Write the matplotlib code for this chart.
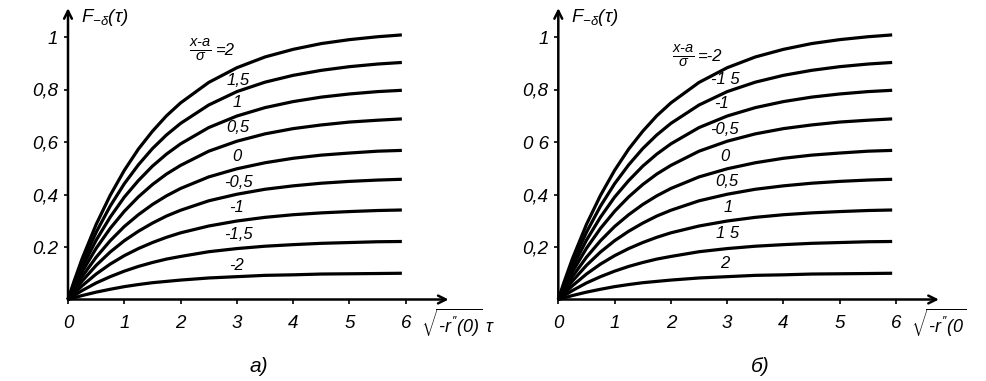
import matplotlib
matplotlib.use("Agg")
import matplotlib.pyplot as plt

plt.rcParams['font.family'] = ['Liberation Sans', 'DejaVu Sans']
plt.rcParams['font.style'] = 'italic'
plt.rcParams['mathtext.fontset'] = 'custom'
plt.rcParams['mathtext.rm'] = 'Liberation Sans:italic'
plt.rcParams['mathtext.it'] = 'Liberation Sans:italic'
plt.rcParams['mathtext.sf'] = 'Liberation Sans:italic'

# ---- data ----
tau = [0, 0.1, 0.25, 0.5, 0.75, 1, 1.25, 1.5, 1.75, 2, 2.5, 3, 3.5, 4, 4.5, 5, 5.5, 5.93]

curve_a = [0, .065, .155, .286, .397, .492, .573, .641, .700, .749, .827, .883, .924, .953, .975, .990, 1.001, 1.008]
curve_b = [0, .058, .138, .256, .356, .441, .513, .575, .627, .671, .741, .792, .828, .854, .873, .887, .897, .903]
curve_c = [0, .051, .122, .226, .314, .390, .453, .508, .554, .593, .655, .699, .731, .754, .771, .783, .792, .797]
curve_d = [0, .044, .105, .195, .271, .336, .391, .438, .478, .511, .565, .603, .631, .651, .665, .676, .683, .688]
curve_e = [0, .037, .087, .161, .224, .278, .323, .362, .395, .423, .467, .498, .521, .538, .550, .558, .565, .568]
curve_f = [0, .029, .070, .130, .181, .224, .260, .291, .318, .340, .376, .401, .420, .433, .443, .450, .455, .458]
curve_g = [0, .022, .052, .097, .135, .167, .194, .217, .237, .254, .280, .299, .313, .323, .330, .335, .339, .341]
curve_h = [0, .014, .034, .063, .087, .108, .126, .141, .154, .164, .182, .194, .203, .209, .214, .217, .220, .221]
curve_i = [0, .006, .015, .028, .039, .049, .057, .064, .069, .074, .082, .087, .092, .094, .097, .098, .099, .100]
curves = [curve_a, curve_b, curve_c, curve_d, curve_e, curve_f, curve_g, curve_h, curve_i]

x_ticks = [0, 1, 2, 3, 4, 5, 6]
x_ticklabels = ["0", "1", "2", "3", "4", "5", "6"]
y_ticks = [0.2, 0.4, 0.6, 0.8, 1.0]
y_ticklabels_left = ["0.2", "0,4", "0,6", "0,8", "1"]
y_ticklabels_right = ["0,2", "0,4", "0 6", "0,8", "1"]

frac_label = r"$\frac{x\text{-}a}{\sigma}$"
top_value_left = "=2"
top_value_right = "=-2"
labels_left = ["1,5", "1", "0,5", "0", "-0,5", "-1", "-1,5", "-2"]
labels_right = ["-1 5", "-1", "-0,5", "0", "0,5", "1", "1 5", "2"]
xlabel_left = r"$\sqrt{\text{-}r''(0)}$ τ"
xlabel_right = r"$\sqrt{\text{-}r''(0}$"

# label positions (data coords)
frac_pos_left = (2.36, 0.950)
value_pos_left = (2.62, 0.948)
frac_pos_right = (2.22, 0.928)
value_pos_right = (2.48, 0.926)
lab_tau_left = [3.02, 3.0, 3.02, 3.0, 3.02, 3.0, 3.02, 3.0]
lab_F_left = [0.836, 0.752, 0.654, 0.543, 0.444, 0.349, 0.246, 0.131]
lab_tau_right = [2.96, 2.90, 2.96, 2.96, 3.0, 3.02, 3.0, 2.96]
lab_F_right = [0.840, 0.745, 0.646, 0.543, 0.451, 0.352, 0.250, 0.139]

W, H = 987, 381
fig = plt.figure(figsize=(W / 100, H / 100), dpi=100)

XMAX, YMAX = 6.76, 1.11
axw = XMAX * 56.3 / W
axh = YMAX * 262.5 / H
bottom = (H - 299.5) / H


def panel(left_px, ytl, fpos, vpos, vtext, labels, lt, lf, xlab, caption, cap_x):
    ax = fig.add_axes([left_px / W, bottom, axw, axh])
    ax.set_xlim(0, XMAX)
    ax.set_ylim(0, YMAX)
    for s in ax.spines.values():
        s.set_visible(False)
    for c in curves:
        ax.plot(tau, c, color='black', lw=2.3, solid_capstyle='butt', clip_on=False)
    for xy in [(1, 0), (0, 1)]:
        ax.annotate('', xy=xy, xytext=(0, 0), xycoords='axes fraction',
                    arrowprops=dict(arrowstyle='->', lw=1.8, color='black', mutation_scale=14,
                                    shrinkA=0, shrinkB=0))
    ax.set_xticks(x_ticks)
    ax.set_xticklabels(x_ticklabels)
    ax.set_yticks(y_ticks)
    ax.set_yticklabels(ytl)
    ax.tick_params(axis='x', direction='out', length=3, width=1.2, pad=8, labelsize=13.5)
    ax.tick_params(axis='y', direction='out', length=3, width=1.2, pad=4, labelsize=13.5)
    ax.text(fpos[0], fpos[1], frac_label, ha='center', va='center', fontsize=15)
    ax.text(vpos[0], vpos[1], vtext, ha='left', va='center', fontsize=12)
    for t, x, y in zip(labels, lt, lf):
        ax.text(x, y, t, ha='center', va='center', fontsize=12)
    fig.text((left_px + 13) / W, 1 - 18 / H, r"$F_{-\delta}$(τ)", fontsize=13.5,
             ha='left', va='center')
    fig.text((left_px + 353) / W, 1 - 323 / H, xlab, fontsize=13,
             ha='left', va='center')
    fig.text(cap_x / W, 1 - 366 / H, caption, fontsize=15, ha='center', va='center')
    return ax


panel(68, y_ticklabels_left, frac_pos_left, value_pos_left, top_value_left,
      labels_left, lab_tau_left, lab_F_left, xlabel_left, "а)", 259)
panel(558.3, y_ticklabels_right, frac_pos_right, value_pos_right, top_value_right,
      labels_right, lab_tau_right, lab_F_right, xlabel_right, "б)", 760)

fig.savefig("out.png", dpi=100)
